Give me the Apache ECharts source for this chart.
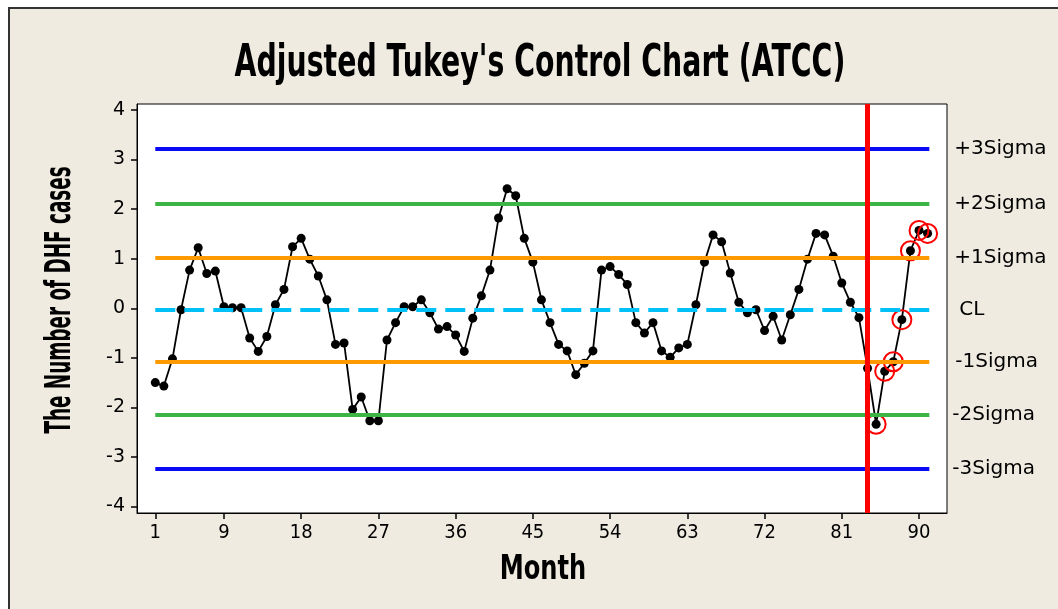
<!DOCTYPE html>
<html><head><meta charset="utf-8">
<script src="https://cdn.jsdelivr.net/npm/echarts@6/dist/echarts.min.js"></script>
<style>
html,body{margin:0;padding:0;background:#fff;}
#wrap{position:relative;width:1058px;height:609px;overflow:hidden;background:#fff;}
#paper{position:absolute;left:8px;top:7px;right:0;bottom:0;background:#efebe1;border-top:2px solid #333;border-left:2px solid #333;}
#chart{position:absolute;left:0;top:0;width:1058px;height:609px;}
</style></head><body>
<div id="wrap"><div id="paper"></div><div id="chart"></div></div>
<script>
// ---- data ----
const months = [1,2,3,4,5,6,7,8,9,10,11,12,13,14,15,16,17,18,19,20,
  21,22,23,24,25,26,27,28,29,30,31,32,33,34,35,36,37,38,39,40,
  41,42,43,44,45,46,47,48,49,50,51,52,53,54,55,56,57,58,59,60,
  61,62,63,64,65,66,67,68,69,70,71,72,73,74,75,76,77,78,79,80,
  81,82,83,84,85,86,87,88,89,90,91];
const dhfCases = [-1.50,-1.57,-1.02,-0.03,0.77,1.22,0.70,0.75,0.03,0.01,
  0.01,-0.60,-0.87,-0.57,0.07,0.38,1.24,1.41,0.99,0.65,
  0.17,-0.73,-0.70,-2.04,-1.79,-2.27,-2.27,-0.64,-0.29,0.03,
  0.03,0.17,-0.09,-0.42,-0.37,-0.54,-0.87,-0.20,0.25,0.77,
  1.82,2.41,2.27,1.41,0.93,0.17,-0.29,-0.73,-0.86,-1.34,
  -1.11,-0.86,0.77,0.84,0.68,0.48,-0.29,-0.50,-0.29,-0.86,
  -0.99,-0.80,-0.73,0.07,0.93,1.48,1.34,0.71,0.12,-0.09,
  -0.03,-0.45,-0.16,-0.64,-0.13,0.38,0.99,1.51,1.48,1.05,
  0.51,0.12,-0.19,-1.21,-2.34,-1.27,-1.08,-0.23,1.16,1.57,1.51];
const limitNames  = ['+3Sigma','+2Sigma','+1Sigma','CL','-1Sigma','-2Sigma','-3Sigma'];
const limitValues = [3.21, 2.10, 1.01, -0.03, -1.07, -2.15, -3.24];
const limitStart = 1, limitEnd = 91.2;
const changeMonth = 84;
const flaggedMonths = [85,86,87,88,89,90,91];
const xTicks = [1,9,18,27,36,45,54,63,72,81,90];
const yTicks = [-4,-3,-2,-1,0,1,2,3,4];
const titleText = "Adjusted Tukey's Control Chart (ATCC)";
const xName = 'Month';
const yName = 'The Number of DHF cases';

// ---- styles ----
const limitColors = ['#0a0af5','#3db446','#ff9900','#00c0f8','#ff9900','#3db446','#0a0af5'];
const labelX = [954,954,954,959,955,952,952];
const lineEndPx = 929;

const chart = echarts.init(document.getElementById('chart'), null, {renderer:'canvas'});
const limitLines = limitNames.map((n,i)=>[
  {name:n, coord:[limitStart, limitValues[i]],
   lineStyle:{color:limitColors[i], width:4, type: n==='CL' ? [20,9] : 'solid'},
   label:{distance: labelX[i]-lineEndPx}},
  {coord:[limitEnd, limitValues[i]]}
]);

chart.setOption({
  animation:false,
  backgroundColor:'transparent',
  grid:{left:137, top:104, width:810, height:409, show:true, backgroundColor:'#fff', borderColor:'#000', borderWidth:1},
  xAxis:{type:'value', min:-1.13, max:93.26,
    axisLine:{show:true, onZero:false, lineStyle:{color:'#000', width:1}},
    axisTick:{show:true, length:6, inside:false, customValues:xTicks, lineStyle:{color:'#000', width:1.5}},
    axisLabel:{customValues:xTicks, margin:10, color:'#000', fontSize:20, fontFamily:"'DejaVu Sans Condensed','DejaVu Sans',sans-serif"},
    splitLine:{show:false}},
  yAxis:{type:'value', min:-4.13, max:4.12,
    axisLine:{show:true, onZero:false, lineStyle:{color:'#000', width:1}},
    axisTick:{show:true, length:6, inside:false, customValues:yTicks, lineStyle:{color:'#000', width:1.5}},
    axisLabel:{customValues:yTicks, margin:12, color:'#000', fontSize:19, fontFamily:"'DejaVu Sans',sans-serif"},
    splitLine:{show:false}},
  graphic:[
    {type:'text', x:540, y:64, scaleX:0.63, style:{text:titleText, font:'bold 45px "DejaVu Sans"', fill:'#000', align:'center', verticalAlign:'middle'}},
    {type:'text', x:61, y:300, rotation:Math.PI/2, scaleX:0.51, style:{text:yName, font:'bold 36px "DejaVu Sans"', fill:'#000', align:'center', verticalAlign:'middle'}},
    {type:'text', x:543, y:570, scaleX:0.71, style:{text:xName, font:'bold 34px "DejaVu Sans"', fill:'#000', align:'center', verticalAlign:'middle'}}
  ],
  series:[
    {type:'line', data:[], z:1,
     markLine:{silent:true, symbol:['none','none'], animation:false,
       label:{show:true, position:'end', formatter:'{b}', color:'#000', fontSize:20, fontFamily:"'DejaVu Sans',sans-serif"},
       data:limitLines}},
    {type:'line', data:[], z:2,
     markLine:{silent:true, symbol:['none','none'], animation:false, label:{show:false},
       lineStyle:{color:'#ff0000', width:5, type:'solid'},
       data:[{xAxis:changeMonth}]}},
    {type:'line', z:3, data:months.map((m,i)=>[m, dhfCases[i]]),
     symbol:'circle', symbolSize:9, showAllSymbol:true,
     lineStyle:{color:'#000', width:1.8}, itemStyle:{color:'#000'}},
    {type:'scatter', z:4, data:flaggedMonths.map(m=>[m, dhfCases[months.indexOf(m)]]),
     symbol:'circle', symbolSize:19,
     itemStyle:{color:'rgba(0,0,0,0)', borderColor:'#ff0000', borderWidth:2, opacity:1}}
  ]
});
</script>
</body></html>
